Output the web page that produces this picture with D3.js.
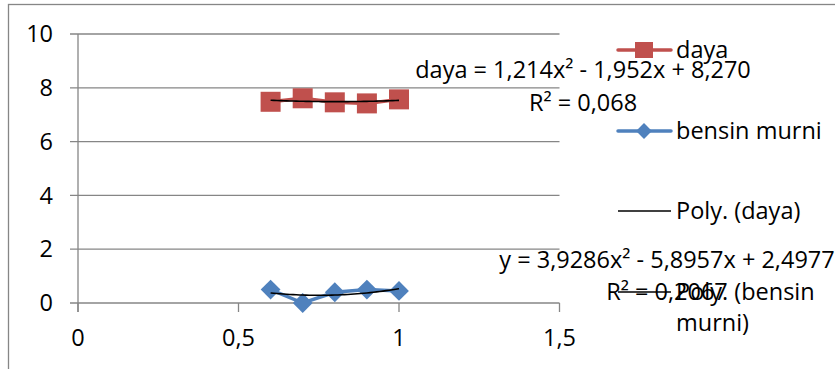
<!DOCTYPE html>
<html>
<head>
<meta charset="utf-8">
<title>daya vs bensin murni</title>
<script src="https://d3js.org/d3.v7.min.js"></script>
<style>
  body { margin: 0; background: #fff; }
  text { font-family: "Open Sans", sans-serif; font-size: 23.5px; fill: #000; }
</style>
</head>
<body>
<div id="chart"></div>
<script>
// data
var xVals = [0.6, 0.7, 0.8, 0.9, 1.0];
var daya = [7.48, 7.61, 7.46, 7.42, 7.57];
var bensin = [0.5, 0.0, 0.4, 0.5, 0.45];

// trendline coefficients (a*x^2 + b*x + c) as printed on chart
var polyDaya = [1.214, -1.952, 8.270];
var polyBensin = [3.9286, -5.8957, 2.4977];

var xTicks = [0, 0.5, 1, 1.5];
var yTicks = [0, 2, 4, 6, 8, 10];
var fmt = function(v) { return String(v).replace(".", ","); };

var W = 835, H = 369;
var red = "#c0504d", blue = "#4f81bd", grid = "#868686";

var svg = d3.select("#chart").append("svg")
    .attr("width", W).attr("height", H);

// outer chart frame
svg.append("rect")
    .attr("x", 8.5).attr("y", 4.5)
    .attr("width", W).attr("height", H)
    .attr("fill", "none").attr("stroke", grid).attr("stroke-width", 1.3);

var x = d3.scaleLinear().domain([0, 1.5]).range([78, 559.5]);
var y = d3.scaleLinear().domain([0, 10]).range([303, 34]);

// gridlines
svg.append("g").selectAll("line")
    .data(yTicks).enter().append("line")
    .attr("x1", 70).attr("x2", x(1.5))
    .attr("y1", function(d) { return y(d); })
    .attr("y2", function(d) { return y(d); })
    .attr("stroke", grid).attr("stroke-width", 1.3);

// y axis line
svg.append("line")
    .attr("x1", x(0)).attr("x2", x(0))
    .attr("y1", y(10)).attr("y2", y(0) + 9)
    .attr("stroke", grid).attr("stroke-width", 1.3);

// x ticks
svg.append("g").selectAll("line")
    .data(xTicks).enter().append("line")
    .attr("x1", function(d) { return x(d); })
    .attr("x2", function(d) { return x(d); })
    .attr("y1", y(0)).attr("y2", y(0) + 9)
    .attr("stroke", grid).attr("stroke-width", 1.3);

// tick labels
svg.append("g").selectAll("text")
    .data(yTicks).enter().append("text")
    .attr("x", 53).attr("y", function(d) { return y(d); })
    .attr("dy", "0.35em").attr("text-anchor", "end")
    .text(fmt);

svg.append("g").selectAll("text")
    .data(xTicks).enter().append("text")
    .attr("x", function(d) { return x(d); }).attr("y", 338)
    .attr("dy", "0.35em").attr("text-anchor", "middle")
    .text(fmt);

// series lines
var line = d3.line()
    .x(function(d) { return x(d[0]); })
    .y(function(d) { return y(d[1]); });

var dayaPts = d3.zip(xVals, daya);
var bensinPts = d3.zip(xVals, bensin);

svg.append("path").datum(dayaPts)
    .attr("d", line).attr("fill", "none")
    .attr("stroke", red).attr("stroke-width", 3.5);

svg.append("path").datum(bensinPts)
    .attr("d", line).attr("fill", "none")
    .attr("stroke", blue).attr("stroke-width", 3.5);

// markers
svg.append("g").selectAll("rect")
    .data(dayaPts).enter().append("rect")
    .attr("x", function(d) { return x(d[0]) - 10; })
    .attr("y", function(d) { return y(d[1]) - 10; })
    .attr("width", 20).attr("height", 20)
    .attr("fill", red);

var diamond = d3.symbol().type(d3.symbolDiamond2).size(250);
svg.append("g").selectAll("path")
    .data(bensinPts).enter().append("path")
    .attr("d", diamond)
    .attr("transform", function(d) { return "translate(" + x(d[0]) + "," + y(d[1]) + ")"; })
    .attr("fill", blue);

// polynomial trendlines over the data range
function polyPts(c) {
  var lo = d3.min(xVals), hi = d3.max(xVals), pts = [];
  for (var i = 0; i <= 40; i++) {
    var t = lo + (hi - lo) * i / 40;
    pts.push([t, c[0] * t * t + c[1] * t + c[2]]);
  }
  return pts;
}
var smooth = d3.line()
    .x(function(d) { return x(d[0]); })
    .y(function(d) { return y(d[1]); })
    .curve(d3.curveBasis);

[polyDaya, polyBensin].forEach(function(c) {
  svg.append("path").datum(polyPts(c))
      .attr("d", smooth).attr("fill", "none")
      .attr("stroke", "#000").attr("stroke-width", 1.6);
});

// trendline equations
var eqs = [
  { cx: 583, lines: [["daya = 1,214x² - 1,952x + 8,270", 70], ["R² = 0,068", 103]] },
  { cx: 667, lines: [["y = 3,9286x² - 5,8957x + 2,4977", 260], ["R² = 0,2067", 292]] }
];
eqs.forEach(function(e) {
  e.lines.forEach(function(l) {
    svg.append("text")
        .attr("x", e.cx).attr("y", l[1])
        .attr("dy", "0.35em").attr("text-anchor", "middle")
        .text(l[0]);
  });
});

// legend
var lg = svg.append("g");
var legendItems = [
  { label: ["daya"], y: 50, color: red, mark: "square", w: 3.5 },
  { label: ["bensin murni"], y: 131, color: blue, mark: "diamond", w: 3.5 },
  { label: ["Poly. (daya)"], y: 211, color: "#000", mark: null, w: 1.3 },
  { label: ["Poly. (bensin", "murni)"], y: 292, color: "#000", mark: null, w: 1.3 }
];
legendItems.forEach(function(it) {
  lg.append("line")
      .attr("x1", 618).attr("x2", 671)
      .attr("y1", it.y).attr("y2", it.y)
      .attr("stroke", it.color).attr("stroke-width", it.w)
      .attr("stroke-linecap", it.mark ? "round" : "butt");
  if (it.mark === "square") {
    lg.append("rect").attr("x", 635).attr("y", it.y - 8)
        .attr("width", 18).attr("height", 16).attr("fill", it.color);
  } else if (it.mark === "diamond") {
    lg.append("path").attr("d", d3.symbol().type(d3.symbolDiamond2).size(160))
        .attr("transform", "translate(644," + it.y + ")")
        .attr("fill", it.color);
  }
  it.label.forEach(function(s, i) {
    lg.append("text").attr("x", 676).attr("y", it.y + i * 31)
        .attr("dy", "0.35em").text(s);
  });
});
</script>
</body>
</html>
